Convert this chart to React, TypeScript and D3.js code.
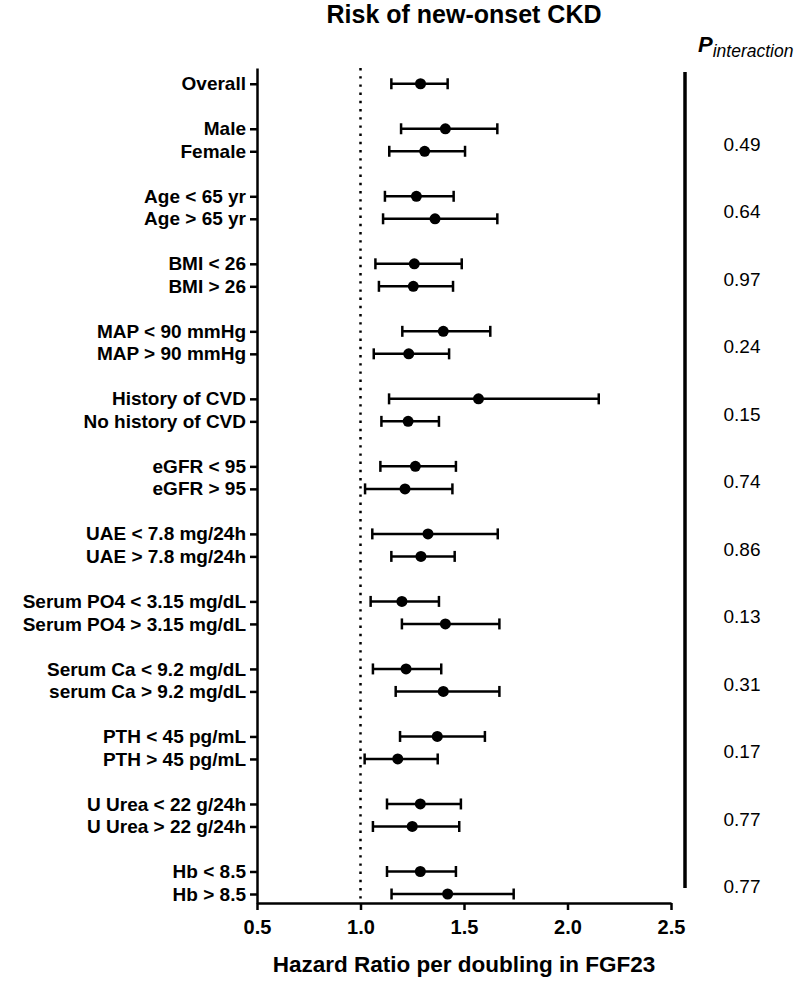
import { useEffect, useRef } from "react";
import * as d3 from "d3";

// Subgroup labels, top to bottom
const labels = [
  "Overall",
  "Male", "Female",
  "Age < 65 yr", "Age > 65 yr",
  "BMI < 26", "BMI > 26",
  "MAP < 90 mmHg", "MAP > 90 mmHg",
  "History of CVD", "No history of CVD",
  "eGFR < 95", "eGFR > 95",
  "UAE < 7.8 mg/24h", "UAE > 7.8 mg/24h",
  "Serum PO4 < 3.15 mg/dL", "Serum PO4 > 3.15 mg/dL",
  "Serum Ca < 9.2 mg/dL", "serum Ca > 9.2 mg/dL",
  "PTH < 45 pg/mL", "PTH > 45 pg/mL",
  "U Urea < 22 g/24h", "U Urea > 22 g/24h",
  "Hb < 8.5", "Hb > 8.5",
];

// Hazard ratios and 95% CI
const hr = [1.29, 1.41, 1.31, 1.27, 1.36, 1.26, 1.255, 1.40, 1.233, 1.57, 1.23, 1.265, 1.215,
  1.326, 1.292, 1.20, 1.41, 1.22, 1.40, 1.371, 1.18, 1.289, 1.25, 1.289, 1.421];
const lo = [1.149, 1.196, 1.139, 1.118, 1.109, 1.072, 1.089, 1.202, 1.064, 1.138, 1.101, 1.096, 1.022,
  1.057, 1.149, 1.049, 1.20, 1.06, 1.17, 1.191, 1.02, 1.128, 1.06, 1.128, 1.15];
const hi = [1.421, 1.661, 1.505, 1.45, 1.661, 1.489, 1.447, 1.627, 1.428, 2.151, 1.379, 1.461, 1.444,
  1.663, 1.455, 1.379, 1.671, 1.39, 1.671, 1.601, 1.373, 1.485, 1.477, 1.461, 1.74];

// P for interaction, one per subgroup pair
const pInteraction = ["0.49", "0.64", "0.97", "0.24", "0.15", "0.74", "0.86", "0.13", "0.31", "0.17", "0.77", "0.77"];

const xTicks = [0.5, 1.0, 1.5, 2.0, 2.5];

const width = 800;
const height = 991;
const FONT = "'Liberation Sans', Arial, Helvetica, sans-serif";

// row slot: Overall at 0, then pairs separated by one blank slot
const slot = (i: number) => (i === 0 ? 0 : i + 1 + Math.floor((i - 1) / 2));

export default function App() {
  const svgRef = useRef<SVGSVGElement | null>(null);

  useEffect(() => {
    const svg = d3.select(svgRef.current);
    svg.selectAll("*").remove();

    const x = d3.scaleLinear().domain([0.5, 2.5]).range([257, 671]);
    const y = d3.scaleLinear().domain([-0.7, 36.4]).range([68, 903]);
    const rows = labels.map((l, i) => ({ label: l, hr: hr[i], lo: lo[i], hi: hi[i], s: slot(i) }));

    // title
    svg.append("text")
      .attr("x", 464).attr("y", 23)
      .attr("text-anchor", "middle")
      .attr("font-family", FONT).attr("font-weight", "bold").attr("font-size", 25)
      .text("Risk of new-onset CKD");

    // reference line at HR = 1
    svg.append("line")
      .attr("x1", x(1)).attr("x2", x(1))
      .attr("y1", y(-0.7)).attr("y2", y(36.4))
      .attr("stroke", "#000").attr("stroke-width", 2.5)
      .attr("stroke-dasharray", "2.4,5.8");

    // x axis
    const xAxis = svg.append("g")
      .attr("transform", `translate(0,${y(36.4)})`)
      .call(d3.axisBottom(x).tickValues(xTicks).tickFormat(d3.format(".1f")).tickSize(7).tickSizeOuter(0));
    xAxis.select(".domain").attr("stroke-width", 2.5);
    xAxis.selectAll(".tick line").attr("stroke-width", 2.5);
    xAxis.selectAll(".tick text")
      .attr("font-family", FONT).attr("font-weight", "bold").attr("font-size", 20)
      .attr("dy", "1.05em").attr("fill", "#000");

    // y axis with subgroup labels
    const yAxis = svg.append("g")
      .attr("transform", `translate(${x(0.5)},0)`)
      .call(d3.axisLeft(y).tickValues(rows.map((r) => r.s))
        .tickFormat((_, i) => labels[i]).tickSize(7).tickSizeOuter(0).tickPadding(4));
    yAxis.select(".domain").attr("stroke-width", 2.5);
    yAxis.selectAll(".tick line").attr("stroke-width", 2.5);
    yAxis.selectAll(".tick text")
      .attr("font-family", FONT).attr("font-weight", "bold").attr("font-size", 19)
      .attr("fill", "#000");

    // error bars
    const g = svg.append("g");
    const bars = g.selectAll("g.row").data(rows).join("g").attr("class", "row");
    bars.append("line")
      .attr("x1", (d) => x(d.lo)).attr("x2", (d) => x(d.hi))
      .attr("y1", (d) => y(d.s)).attr("y2", (d) => y(d.s))
      .attr("stroke", "#000").attr("stroke-width", 2.5);
    bars.append("line")
      .attr("x1", (d) => x(d.lo)).attr("x2", (d) => x(d.lo))
      .attr("y1", (d) => y(d.s) - 5.5).attr("y2", (d) => y(d.s) + 5.5)
      .attr("stroke", "#000").attr("stroke-width", 2.5);
    bars.append("line")
      .attr("x1", (d) => x(d.hi)).attr("x2", (d) => x(d.hi))
      .attr("y1", (d) => y(d.s) - 5.5).attr("y2", (d) => y(d.s) + 5.5)
      .attr("stroke", "#000").attr("stroke-width", 2.5);
    bars.append("circle")
      .attr("cx", (d) => x(d.hr)).attr("cy", (d) => y(d.s))
      .attr("r", 5.5).attr("fill", "#000");

    // right bracket and P interaction column
    svg.append("line")
      .attr("x1", 685).attr("x2", 685)
      .attr("y1", 72).attr("y2", 888)
      .attr("stroke", "#000").attr("stroke-width", 3.5);

    const header = svg.append("text")
      .attr("x", 698).attr("y", 52)
      .attr("font-family", FONT);
    header.append("tspan")
      .attr("font-weight", "bold").attr("font-style", "italic").attr("font-size", 22)
      .text("P");
    header.append("tspan")
      .attr("font-style", "italic").attr("font-size", 17.5).attr("dy", 5)
      .text("interaction");

    svg.append("g").selectAll("text").data(pInteraction).join("text")
      .attr("x", 742)
      .attr("y", (_, k) => y(2.5 + 3 * k) + 10.5)
      .attr("text-anchor", "middle")
      .attr("font-family", FONT).attr("font-size", 19)
      .text((d) => d);

    // x axis title
    svg.append("text")
      .attr("x", 464).attr("y", 972)
      .attr("text-anchor", "middle")
      .attr("font-family", FONT).attr("font-weight", "bold").attr("font-size", 22.5)
      .text("Hazard Ratio per doubling in FGF23");
  }, []);

  return (
    <svg
      ref={svgRef}
      width={width}
      height={height}
      style={{ position: "absolute", left: 0, top: 0, background: "#fff" }}
    />
  );
}
